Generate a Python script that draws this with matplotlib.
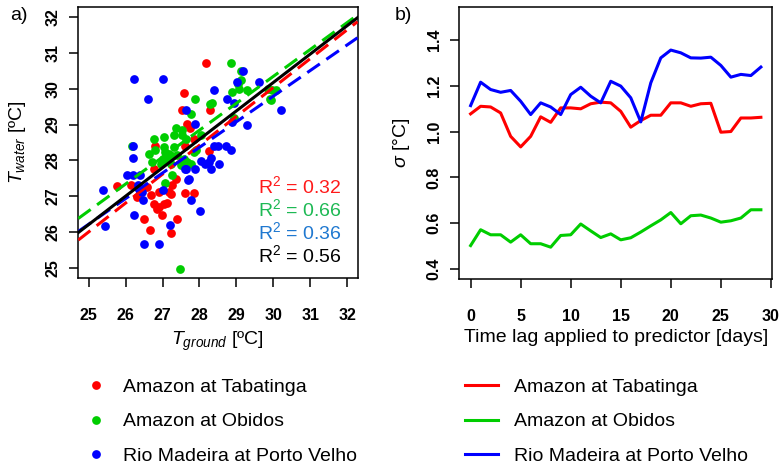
import numpy as np
import matplotlib
matplotlib.use("Agg")
import matplotlib.pyplot as plt

plt.rcParams['font.family'] = ['Liberation Sans', 'DejaVu Sans']
plt.rcParams['mathtext.fontset'] = 'custom'
plt.rcParams['mathtext.rm'] = 'Liberation Sans'
plt.rcParams['mathtext.it'] = 'Liberation Sans:italic'
plt.rcParams['mathtext.bf'] = 'Liberation Sans:bold'

# ---------------- data ----------------
station_names = ["Amazon at Tabatinga", "Amazon at Obidos", "Rio Madeira at Porto Velho"]
station_colors = ["#FF0000", "#00CD00", "#0000FF"]
r2_colors = ["#FF1A1A", "#1DB954", "#1F78D0", "#000000"]

tab_ground = [28.17, 27.58, 27.54, 28.28, 27.67, 27.74, 27.85, 28.26, 26.81, 27.61,
              26.77, 25.77, 26.15, 26.59, 26.40, 26.31, 26.68, 26.90, 27.17, 27.26,
              27.36, 27.22, 27.61, 27.84, 26.77, 26.90, 27.04, 27.13, 26.86, 26.99,
              26.51, 27.40, 26.66, 27.22]
tab_water = [30.70, 29.89, 29.40, 29.40, 29.01, 28.89, 28.61, 28.26, 28.40, 28.40,
             27.77, 27.30, 27.31, 27.26, 27.12, 26.98, 27.03, 27.12, 27.12, 27.31,
             27.49, 27.07, 27.09, 27.09, 26.80, 26.70, 26.80, 26.81, 26.66, 26.47,
             26.38, 26.38, 26.07, 25.99]

obi_ground = [28.85, 29.12, 29.12, 29.05, 29.08, 29.30, 28.89, 29.85, 30.07, 29.92,
              27.88, 28.29, 28.35, 27.76, 28.94, 27.36, 27.54, 27.31, 27.54, 28.03,
              27.63, 26.77, 27.04, 26.18, 26.63, 26.81, 27.04, 27.08, 27.17, 27.26,
              27.40, 27.00, 27.13, 27.22, 27.58, 27.67, 27.76, 27.85, 27.90, 26.72,
              27.49, 27.26, 27.08, 27.47, 26.95, 27.31, 29.96, 29.93]
obi_water = [30.70, 30.49, 30.25, 30.12, 30.00, 29.97, 29.91, 30.00, 29.97, 29.70,
             29.70, 29.58, 29.60, 29.29, 29.17, 28.89, 28.84, 28.70, 28.70, 28.70,
             28.61, 28.61, 28.64, 28.39, 28.17, 28.30, 28.38, 28.24, 28.17, 28.12,
             28.14, 28.05, 28.00, 27.91, 28.05, 27.96, 27.91, 28.24, 28.28, 27.96,
             27.86, 27.59, 27.37, 24.98, 27.91, 28.38, 29.96, 29.68]

mad_ground = [26.22, 27.01, 26.61, 27.63, 28.40, 29.19, 29.01, 29.60, 28.74, 28.94,
              30.21, 29.28, 27.87, 28.89, 28.40, 28.49, 28.71, 28.85, 26.20, 26.20,
              28.32, 28.26, 28.03, 28.14, 28.53, 28.32, 27.64, 27.88, 26.04, 26.20,
              26.39, 26.33, 25.38, 26.45, 27.01, 27.72, 27.76, 26.46, 26.22, 28.01,
              25.45, 27.20, 26.51, 26.90, 27.69, 27.60]
mad_water = [30.28, 30.28, 29.70, 29.40, 29.97, 30.49, 30.19, 30.19, 29.70, 29.60,
             29.40, 29.00, 29.01, 29.07, 28.39, 28.39, 28.39, 28.28, 28.39, 28.08,
             28.08, 27.96, 27.99, 27.91, 27.89, 27.77, 27.77, 27.77, 27.59, 27.59,
             27.59, 27.31, 27.19, 27.12, 27.19, 27.49, 26.91, 26.91, 26.47, 26.58,
             26.17, 26.19, 25.68, 25.68, 27.47, 27.77]

# regression lines (intercept, slope): Tabatinga, Obidos, Porto Velho, all
fit_intercepts = [5.91, 7.87, 8.40, 6.44]
fit_slopes = [0.804, 0.749, 0.713, 0.791]
r2_values = [0.32, 0.66, 0.36, 0.56]

lags = list(range(30))
sd_tab = [1.077, 1.110, 1.107, 1.081, 0.979, 0.933, 0.979, 1.064, 1.040, 1.103,
          1.103, 1.099, 1.121, 1.128, 1.125, 1.088, 1.019, 1.048, 1.071, 1.071,
          1.125, 1.125, 1.110, 1.121, 1.123, 0.997, 1.000, 1.059, 1.059, 1.062]
sd_obi = [0.503, 0.572, 0.550, 0.550, 0.518, 0.550, 0.511, 0.511, 0.496, 0.547,
          0.550, 0.597, 0.567, 0.538, 0.554, 0.528, 0.537, 0.562, 0.589, 0.615,
          0.647, 0.598, 0.633, 0.636, 0.623, 0.605, 0.611, 0.623, 0.659, 0.659]
sd_mad = [1.113, 1.215, 1.183, 1.171, 1.179, 1.132, 1.074, 1.125, 1.107, 1.074,
          1.161, 1.193, 1.154, 1.125, 1.219, 1.198, 1.147, 1.042, 1.212, 1.321,
          1.355, 1.343, 1.321, 1.320, 1.324, 1.288, 1.237, 1.249, 1.244, 1.281]

xticks_a = [25, 26, 27, 28, 29, 30, 31, 32]
yticks_a = [25, 26, 27, 28, 29, 30, 31, 32]
xticks_b = [0, 5, 10, 15, 20, 25, 30]
yticks_b = [0.4, 0.6, 0.8, 1.0, 1.2, 1.4]

# ---------------- figure ----------------
W, H = 783, 467
fig = plt.figure(figsize=(W / 100, H / 100), dpi=100)

def px_axes(l, t, r, b):
    return fig.add_axes([l / W, (H - b) / H, (r - l) / W, (b - t) / H])

ax1 = px_axes(78.3, 6.7, 357.5, 278.3)
ax2 = px_axes(459, 6.7, 772.5, 279.3)

tick_fs = 11.5
lab_fs = 14

for ax in (ax1, ax2):
    for s in ax.spines.values():
        s.set_linewidth(1.1)
    ax.tick_params(axis='both', direction='out', length=6.5, width=1.1,
                   labelsize=tick_fs)
    ax.tick_params(axis='x', pad=15)
    ax.tick_params(axis='y', pad=6, labelrotation=90)

# panel a
xs = [tab_ground, obi_ground, mad_ground]
ys = [tab_water, obi_water, mad_water]
handles_a = []
for gx, gy, c, name in zip(xs, ys, station_colors, station_names):
    h, = ax1.plot(gx, gy, 'o', color=c, ms=6.3, mec='none', label=name)
    handles_a.append(h)

ax1.set_xlim(24.72, 32.28)
ax1.set_ylim(24.72, 32.28)
line_cols = station_colors + ["#000000"]
for i, (a, b, c) in enumerate(zip(fit_intercepts, fit_slopes, line_cols)):
    if i < 3:
        ax1.axline((0, a), slope=b, color=c, lw=2.2, dashes=(5, 2.6), zorder=3)
    else:
        ax1.axline((0, a), slope=b, color=c, lw=2.2, zorder=4)
ax1.set_xticks(xticks_a)
ax1.set_yticks(yticks_a)
ax1.set_xticklabels([str(v) for v in xticks_a], fontweight='bold')
ax1.set_yticklabels([str(v) for v in yticks_a], fontweight='bold', va='center')

r2_y = [0.3398, 0.2552, 0.1705, 0.0858]
for r2, c, yy in zip(r2_values, r2_colors, r2_y):
    ax1.text(0.9445, yy, "R$^2$ = %.2f" % r2, color=c, fontsize=lab_fs,
             ha='right', va='center', transform=ax1.transAxes)

ax1.set_xlabel("$T_{ground}$ [ºC]", fontsize=lab_fs, va='center')
ax1.xaxis.set_label_coords(0.5, -0.232)
ax1.set_ylabel("$T_{water}$ [ºC]", fontsize=lab_fs, va='center')
ax1.yaxis.set_label_coords(-0.216, 0.5)

# panel b
handles_b = []
for sd, c, name in zip([sd_tab, sd_obi, sd_mad], station_colors, station_names):
    h, = ax2.plot(lags, sd, color=c, lw=2.2, label=name)
    handles_b.append(h)
ax2.set_xlim(-1.16, 30.16)
ax2.set_ylim(0.356, 1.544)
ax2.set_xticks(xticks_b)
ax2.set_yticks(yticks_b)
ax2.set_xticklabels([str(v) for v in xticks_b], fontweight='bold')
ax2.set_yticklabels(["%.1f" % v for v in yticks_b], fontweight='bold', va='center')
ax2.set_xlabel("Time lag applied to predictor [days]", fontsize=lab_fs, va='center')
ax2.xaxis.set_label_coords(0.5, -0.2135)
ax2.set_ylabel("$\\sigma$ [°C]", fontsize=lab_fs, va='center')
ax2.yaxis.set_label_coords(-0.182, 0.5)

fig.text(10 / W, (H - 15) / H, "a)", fontsize=lab_fs, ha='left', va='center')
fig.text(395 / W, (H - 15) / H, "b)", fontsize=lab_fs, ha='left', va='center')

# legends
fig.legend(handles=handles_a, loc='upper left',
           bbox_to_anchor=(86.3 / W, (H - 378) / H), frameon=False,
           fontsize=lab_fs, borderpad=0, borderaxespad=0, handlelength=1.0,
           handletextpad=0.88, labelspacing=0.88, numpoints=1)
fig.legend(handles=handles_b, loc='upper left',
           bbox_to_anchor=(465 / W, (H - 378) / H), frameon=False,
           fontsize=lab_fs, borderpad=0, borderaxespad=0, handlelength=1.72,
           handletextpad=0.8, labelspacing=0.88)

fig.savefig("out.png", dpi=100)
